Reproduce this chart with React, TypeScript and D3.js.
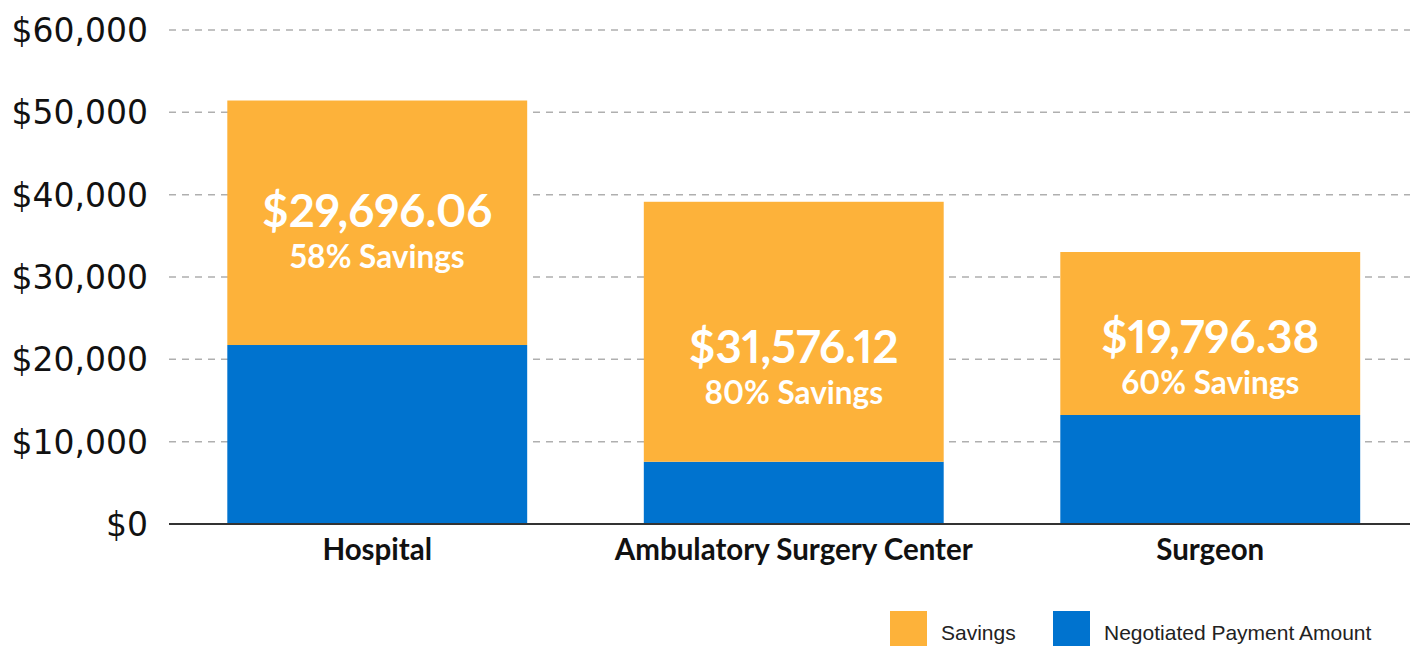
import React from "react";
import * as d3 from "d3";

const categories = ["Hospital", "Ambulatory Surgery Center", "Surgeon"];
const negotiated = [21740, 7560, 13240];
const savings = [29696.06, 31576.12, 19796.38];
const savingsPct = [58, 80, 60];
const yTicks = [0, 10000, 20000, 30000, 40000, 50000, 60000];
const legendItems = [
  { key: "savings", label: "Savings" },
  { key: "negotiated", label: "Negotiated Payment Amount" },
];

const W = 1410;
const H = 646;
const ORANGE = "#FDB23A";
const BLUE = "#0073CF";
const LABEL_DY = [4, 31, 19.5];

export default function App() {
  const plotLeft = 169;
  const plotRight = 1410;
  const y = d3.scaleLinear().domain([0, 60000]).range([524, 30]);
  const x = d3
    .scaleBand<string>()
    .domain(categories)
    .range([169, 1418.5])
    .paddingInner(0.28)
    .paddingOuter(0.14);

  const rows = categories.map((c, i) => ({
    category: c,
    negotiated: negotiated[i],
    savings: savings[i],
  }));
  const stack = d3.stack<any>().keys(["negotiated", "savings"]);
  const series = stack(rows);
  const colors: Record<string, string> = { negotiated: BLUE, savings: ORANGE };
  const fmt = d3.format("$,.2f");
  const tickFmt = d3.format("$,");

  const numFont = "Lato, 'Open Sans', sans-serif";

  return (
    <svg
      width={W}
      height={H}
      style={{ position: "absolute", left: 0, top: 0, background: "#fff" }}
    >
      {/* gridlines */}
      {yTicks
        .filter((t) => t > 0)
        .map((t) => (
          <line
            key={t}
            x1={plotLeft}
            x2={plotRight}
            y1={y(t)}
            y2={y(t)}
            stroke="#AFAFAF"
            strokeWidth={1.5}
            strokeDasharray="7,6"
          />
        ))}
      {/* y labels */}
      {yTicks.map((t) => (
        <text
          key={"l" + t}
          x={148}
          y={y(t)}
          dy="0.36em"
          textAnchor="end"
          fontFamily="'DejaVu Sans', sans-serif"
          fontSize={33}
          fill="#111"
        >
          {tickFmt(t)}
        </text>
      ))}
      {/* bars */}
      {series.map((s) =>
        s.map((d, i) => (
          <rect
            key={s.key + i}
            x={x(categories[i])}
            width={x.bandwidth()}
            y={y(d[1])}
            height={y(d[0]) - y(d[1])}
            fill={colors[s.key]}
          />
        ))
      )}
      {/* axis line */}
      <line
        x1={plotLeft}
        x2={plotRight}
        y1={y(0)}
        y2={y(0)}
        stroke="#333"
        strokeWidth={2}
      />
      {/* bar labels */}
      {series[1].map((d, i) => {
        const cx = (x(categories[i]) as number) + x.bandwidth() / 2;
        const cy = (y(d[0]) + y(d[1])) / 2 + LABEL_DY[i];
        return (
          <g
            key={"bl" + i}
            fill="#fff"
            fontFamily={numFont}
            fontWeight={700}
            textAnchor="middle"
            style={{ fontVariantNumeric: "proportional-nums", fontFeatureSettings: "'pnum' 1" }}
          >
            <text x={cx} y={cy} fontSize={45.5}>
              {fmt(savings[i])}
            </text>
            <text x={cx} y={cy + 41} fontSize={31.5}>
              {savingsPct[i]}% Savings
            </text>
          </g>
        );
      })}
      {/* category labels */}
      {categories.map((c) => (
        <text
          key={"c" + c}
          x={(x(c) as number) + x.bandwidth() / 2}
          y={560}
          textAnchor="middle"
          fontFamily={numFont}
          fontWeight={700}
          fontSize={29.5}
          fill="#111"
        >
          {c}
        </text>
      ))}
      {/* legend */}
      {legendItems.map((it, i) => {
        const lx = [890, 1053][i];
        return (
          <g key={it.key}>
            <rect x={lx} y={611} width={37} height={37} fill={colors[it.key]} />
            <text
              x={lx + 51}
              y={640}
              fontFamily="'Liberation Sans', Arial, sans-serif"
              fontSize={21}
              fill="#222"
            >
              {it.label}
            </text>
          </g>
        );
      })}
    </svg>
  );
}
